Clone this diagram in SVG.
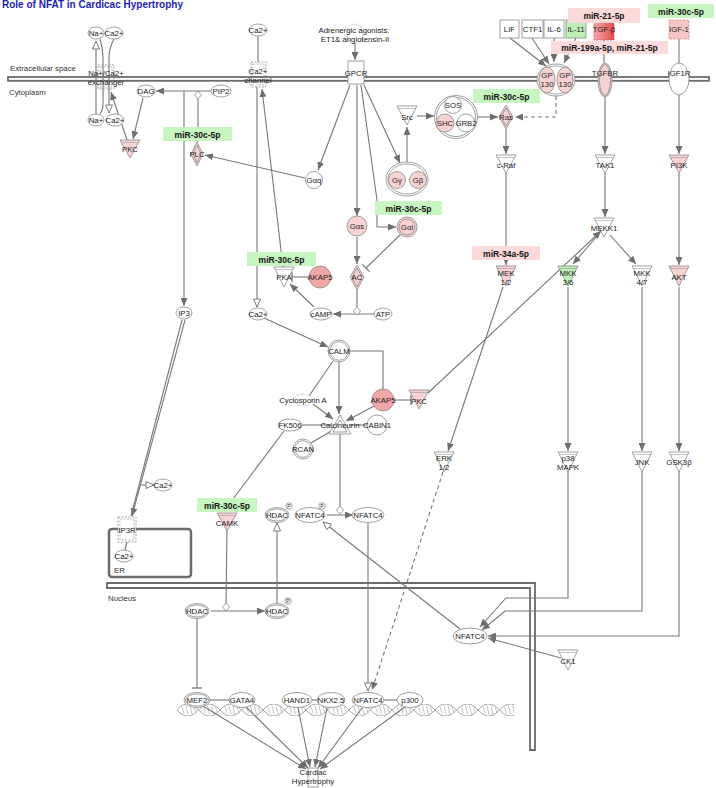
<svg xmlns="http://www.w3.org/2000/svg" width="716" height="788" viewBox="0 0 716 788">
<style>
text{font-family:"Liberation Sans",Arial,sans-serif;font-size:7.8px;fill:#222;text-anchor:middle}
.t{font-size:10px;font-weight:bold;fill:#1c1cb4;text-anchor:start}
.lbl{text-anchor:start;fill:#333}
.mir{font-weight:bold;font-size:8.5px;fill:#111}
.ln{fill:none;stroke:#777;stroke-width:1.1}
.a{marker-end:url(#fa)}
.o{marker-end:url(#oa)}
.b{marker-end:url(#bar)}
.d{stroke-dasharray:4 3}
.n{stroke:#888;stroke-width:0.8;fill:#fff}
.nn{stroke:#888;stroke-width:0.8;fill:none}
.pk{fill:#f9d3d3}
.pk2{fill:#f3a6a6}
.gn{fill:#bfeeb7}
.ds{stroke-dasharray:2 1.5}
.mg{fill:#c8f6c0}
.mp{fill:#fddada}
.p{font-size:5px}
.tl{stroke:#999;stroke-width:0.6}
</style>
<defs>
<marker id="fa" viewBox="0 0 8 7" refX="8" refY="3.5" markerWidth="8" markerHeight="7" markerUnits="userSpaceOnUse" orient="auto"><path d="M0,0 L8,3.5 L0,7 z" fill="#6e6e6e"/></marker>
<marker id="oa" viewBox="-1 -1 10 9" refX="8" refY="3.5" markerWidth="10" markerHeight="9" markerUnits="userSpaceOnUse" orient="auto"><path d="M0,0 L8,3.5 L0,7 z" fill="#fff" stroke="#6e6e6e" stroke-width="0.9"/></marker>
<marker id="bar" viewBox="0 0 2 10" refX="1" refY="5" markerWidth="2" markerHeight="10" markerUnits="userSpaceOnUse" orient="auto"><rect x="0.4" y="0" width="1.2" height="10" fill="#6e6e6e"/></marker>
<linearGradient id="tgf" x1="0" y1="0" x2="1" y2="0"><stop offset="0" stop-color="#f5a8a8"/><stop offset="1" stop-color="#e44c4c"/></linearGradient>
<pattern id="dna" x="177" y="704" width="43" height="12" patternUnits="userSpaceOnUse">
<path d="M0,6 C7,-2 14,-2 21.5,6 S36,14 43,6" fill="none" stroke="#888" stroke-width="0.8"/>
<path d="M0,6 C7,14 14,14 21.5,6 S36,-2 43,6" fill="none" stroke="#888" stroke-width="0.8"/>
<path d="M5,3 L7,9 M9,1.6 L11,10.4 M13,1.6 L15,10.4 M17,3 L19,9 M26.5,3 L28.5,9 M30.5,1.6 L32.5,10.4 M34.5,1.6 L36.5,10.4 M38.5,3 L40.5,9" stroke="#999" stroke-width="0.6"/>
</pattern>
</defs>
<rect width="716" height="788" fill="#fff"/>
<text class="t" x="2" y="7.7">Role of NFAT in Cardicac Hypertrophy</text>

<g id="compartments">
<rect x="8" y="77" width="701" height="3.8" fill="#fff" stroke="#6b6b6b" stroke-width="1.8"/>
<polygon points="107,583 535,583 535,750 530,750 530,588 107,588" fill="#fff" stroke="#6b6b6b" stroke-width="1.8"/>
<rect x="109" y="529" width="82" height="48" rx="3" fill="none" stroke="#6b6b6b" stroke-width="2.5"/>
<text class="lbl" x="10" y="71" font-size="7.5">Extracellular space</text>
<text class="lbl" x="9" y="95">Cytoplasm</text>
<text class="lbl" x="108" y="601">Nucleus</text>
<text class="lbl" x="114" y="573">ER</text>
<rect x="177" y="704" width="337" height="12" fill="url(#dna)"/>
</g>

<g id="connectors">
<path class="ln o" d="M96,114 L96,41"/>
<path class="ln" d="M100,39 Q103,48 103,58 L103,104 Q103,110 100,114"/>
<path class="ln o" d="M114,39 Q109,48 109,58 L109,113"/>
<path class="ln a" d="M127,140 L111,92"/>
<path class="ln a" d="M212,91 L156,91"/>
<path class="ln a" d="M184,91 L184,306"/>
<path class="ln" d="M198,99 L198,142"/>
<path class="ln a" d="M143,98 L133,139"/>
<path class="ln a" d="M305,178 L205,155"/>
<path class="ln" d="M182,320 L131,516"/>
<path class="ln a" d="M185,320 L132,516"/>
<path class="ln o" d="M141,485 L154,485"/>
<path class="ln" d="M127,542 L125,550"/>
<path class="ln" d="M258,36 L258,62"/>
<path class="ln o" d="M257,87 L257,307"/>
<path class="ln a" d="M283,267 L262,89"/>
<path class="ln a" d="M355,43 L355,60"/>
<path class="ln a" d="M350,85 L318,170"/>
<path class="ln a" d="M357,85 L357,216"/>
<path class="ln a" d="M361,85 L377,200 L377,227 L396,227"/>
<path class="ln a" d="M364,85 L400,163"/>
<path class="ln a" d="M407,162 L407,127"/>
<path class="ln a" d="M417,116 L434,116"/>
<path class="ln a" d="M478,117 L498,117"/>
<path class="ln a d" d="M556,96 L556,117 L515,117"/>
<path class="ln a" d="M506,129 L506,154"/>
<path class="ln a" d="M510,38 L546,66"/>
<path class="ln a" d="M532,38 L549,64"/>
<path class="ln a" d="M554,38 L554,62"/>
<path class="ln a" d="M576,38 L564,63"/>
<path class="ln" d="M604,40 L604,63"/>
<path class="ln a" d="M605,97 L605,154"/>
<path class="ln" d="M679,39 L679,63"/>
<path class="ln a" d="M679,95 L679,154"/>
<path class="ln a" d="M605,173 L605,217"/>
<path class="ln a" d="M679,173 L679,265"/>
<path class="ln a" d="M506,173 L506,265"/>
<path class="ln a" d="M598,235 L573,264"/>
<path class="ln a" d="M610,235 L636,264"/>
<path class="ln a" d="M428,393 L601,231"/>
<path class="ln a" d="M503,287 L448,451"/>
<path class="ln a" d="M568,287 L568,451"/>
<path class="ln a" d="M642,287 L642,451"/>
<path class="ln a" d="M679,287 L679,451"/>
<path class="ln a" d="M568,471 L568,598 L506,598 L480,627"/>
<path class="ln a" d="M642,471 L642,611 L505,611 L482,630"/>
<path class="ln a" d="M679,471 L679,636 L488,636"/>
<path class="ln a" d="M561,658 L488,638"/>
<path class="ln o" d="M460,629 L323,522"/>
<path class="ln a d" d="M443,472 L372,690"/>
<path class="ln a" d="M357,237 L357,264"/>
<path class="ln b" d="M401,234 L366,268"/>
<path class="ln" d="M357,290 L357,307"/>
<path class="ln a" d="M374,314 L333,314"/>
<path class="ln a" d="M314,307 L290,284"/>
<path class="ln b" d="M309,277 L292,277"/>
<path class="ln a" d="M264,318 L328,347"/>
<path class="ln a" d="M339,362 L339,414"/>
<path class="ln" d="M350,351 L383,351 L383,389"/>
<path class="ln" d="M333,361 L309,396"/>
<path class="ln a" d="M313,404 L333,419"/>
<path class="ln a" d="M374,406 L346,421"/>
<path class="ln b" d="M394,400 L411,400"/>
<path class="ln" d="M302,425 L331,425"/>
<path class="ln" d="M367,425 L349,425"/>
<path class="ln" d="M311,443 L333,430"/>
<path class="ln" d="M284,431 L230,503"/>
<path class="ln" d="M340,434 L340,506"/>
<path class="ln a" d="M327,515 L353,515"/>
<path class="ln o" d="M368,523 L368,691"/>
<path class="ln" d="M227,530 L226,603"/>
<path class="ln a" d="M211,611 L265,611"/>
<path class="ln o" d="M277,603 L277,523"/>
<path class="ln b" d="M197,619 L197,688"/>
<path class="ln" d="M210,700 L229,700"/>
<path class="ln" d="M312,700 L317,700"/>
<path class="ln" d="M384,700 L397,700"/>
<path class="ln a" d="M203,706 L306,769"/>
<path class="ln a" d="M246,707 L308,768"/>
<path class="ln a" d="M298,708 L310,767"/>
<path class="ln a" d="M327,708 L315,767"/>
<path class="ln a" d="M362,708 L318,768"/>
<path class="ln a" d="M405,707 L320,769"/>
</g>

<g id="reaction-diamonds">
<polygon points="198,91 201.5,95 198,99 194.5,95" class="n"/>
<polygon points="357,307 360.5,311 357,315 353.5,311" class="n"/>
<polygon points="340,506 343.5,510 340,514 336.5,510" class="n"/>
<polygon points="226,603 229.5,607 226,611 222.5,607" class="n"/>
</g>

<g id="Na-top"><ellipse cx="96" cy="33" rx="8" ry="6" class="n"/><text x="96" y="36">Na+</text></g>
<g id="Ca-top"><ellipse cx="114" cy="33" rx="9" ry="6" class="n"/><text x="114" y="36">Ca2+</text></g>
<g id="Na-bot"><ellipse cx="96" cy="120" rx="8" ry="6" class="n"/><text x="96" y="123">Na+</text></g>
<g id="Ca-bot"><ellipse cx="115" cy="120" rx="9" ry="6" class="n"/><text x="115" y="123">Ca2+</text></g>
<g id="exchanger"><rect x="98" y="65" width="16" height="24" fill="none" stroke="#888" stroke-width="0.8" class="ds"/><rect x="100" y="67" width="12" height="20" fill="none" stroke="#888" stroke-width="0.6" class="ds"/><text x="106" y="76">Na+/Ca2+</text><text x="106" y="85">exchanger</text></g>
<g id="DAG"><ellipse cx="146" cy="91" rx="9" ry="6" class="n"/><text x="146" y="94">DAG</text></g>
<g id="PIP2"><ellipse cx="221" cy="91" rx="10" ry="6" class="n"/><text x="221" y="94">PIP2</text></g>
<g id="PKC1"><polygon points="120,140 140,140 130,158" class="n pk"/><line x1="121.5" y1="142.5" x2="138.5" y2="142.5" class="tl"/><text x="130" y="152">PKC</text></g>
<g id="PLC"><polygon points="197,142 203,154 197,166 191,154" class="n pk"/><polygon points="197,145 201,154 197,163 193,154" class="nn"/><text x="197" y="157">PLC</text></g>
<g id="Ca-ext"><ellipse cx="258" cy="30" rx="9" ry="6" class="n"/><text x="258" y="33">Ca2+</text></g>
<g id="Ca-channel"><rect x="251" y="62" width="15" height="25" fill="none" stroke="#888" stroke-width="0.8" class="ds"/><rect x="253" y="64" width="11" height="21" fill="none" stroke="#888" stroke-width="0.6" class="ds"/><text x="258" y="74">Ca2+</text><text x="258" y="83">channel</text></g>
<g id="agonists"><ellipse cx="355" cy="34" rx="8" ry="10" fill="none" stroke="#ccc" stroke-width="0.7"/><text x="354" y="33">Adrenergic agonists:</text><text x="355" y="42">ET1&amp; angiotensin-II</text></g>
<g id="GPCR"><rect x="348" y="61" width="16" height="23" class="n"/><text x="356" y="76">GPCR</text></g>
<g id="Gaq"><circle cx="314" cy="180" r="8.5" class="n"/><text x="314" y="183">Gαq</text></g>
<g id="GgGb"><ellipse cx="407" cy="179" rx="21" ry="17" class="n"/><ellipse cx="407" cy="179" rx="19" ry="15" class="nn"/><circle cx="397" cy="180" r="8.5" class="n pk"/><circle cx="418" cy="180" r="8.5" class="n pk"/><text x="397" y="183">Gγ</text><text x="418" y="183">Gβ</text></g>
<g id="Src"><polygon points="397,106 417,106 407,125" class="n"/><line x1="398.5" y1="108.5" x2="415.5" y2="108.5" class="tl"/><text x="407" y="120">Src</text></g>
<g id="SOS-complex"><circle cx="456" cy="117" r="21.5" class="n"/><circle cx="456" cy="117" r="19.5" class="nn"/><circle cx="453" cy="105" r="8.5" class="n"/><circle cx="445" cy="123" r="9" class="n pk"/><circle cx="466" cy="123" r="9" class="n"/><text x="453" y="108">SOS</text><text x="445" y="126">SHC</text><text x="466" y="126">GRB2</text></g>
<g id="Ras"><polygon points="506,105 513,117 506,129 499,117" class="n pk"/><polygon points="506,108 511,117 506,126 501,117" class="nn"/><text x="506" y="120">Ras</text></g>
<g id="LIF"><rect x="500" y="20" width="19" height="18" class="n"/><text x="509.5" y="32">LIF</text></g>
<g id="CTF1"><rect x="522" y="20" width="21" height="18" class="n"/><text x="532.5" y="32">CTF1</text></g>
<g id="IL-6"><rect x="544" y="20" width="20" height="18" class="n"/><text x="554" y="32">IL-6</text></g>
<g id="IL-11"><rect x="566" y="20" width="20" height="18" class="n gn"/><text x="576" y="32">IL-11</text></g>
<g id="TGF-b"><rect x="594" y="20" width="20" height="20" fill="url(#tgf)" stroke="#c44" stroke-width="0.8" class="ds"/><text x="604" y="32">TGF-β</text></g>
<g id="IGF-1"><rect x="669" y="20" width="20" height="19" fill="#f6c4c4" stroke="#c88" stroke-width="0.8" class="ds"/><text x="679" y="32">IGF-1</text></g>
<g id="GP130"><ellipse cx="556" cy="80" rx="19" ry="16" class="n"/><ellipse cx="556" cy="80" rx="17" ry="14" class="nn"/><ellipse cx="547" cy="80" rx="8" ry="13" class="n pk"/><ellipse cx="565" cy="80" rx="8" ry="13" class="n pk"/><text x="547" y="78">GP</text><text x="547" y="87">130</text><text x="565" y="78">GP</text><text x="565" y="87">130</text></g>
<g id="TGFBR"><ellipse cx="605" cy="80" rx="7" ry="17" class="n pk"/><ellipse cx="605" cy="80" rx="5.5" ry="15.5" class="nn"/><text x="605" y="76">TGFBR</text></g>
<g id="IGF1R"><ellipse cx="679" cy="79" rx="10" ry="16" class="n"/><text x="679" y="76">IGF1R</text></g>
<g id="c-Raf"><polygon points="496,155 516,155 506,173" class="n"/><line x1="497.5" y1="157.5" x2="514.5" y2="157.5" class="tl"/><text x="506" y="168">c-Raf</text></g>
<g id="TAK1"><polygon points="595,155 615,155 605,173" class="n"/><line x1="596.5" y1="157.5" x2="613.5" y2="157.5" class="tl"/><text x="605" y="168">TAK1</text></g>
<g id="PI3K"><polygon points="669,155 689,155 679,173" class="n pk"/><line x1="670.5" y1="157.5" x2="687.5" y2="157.5" class="tl"/><text x="679" y="168">PI3K</text></g>
<g id="MEKK1"><polygon points="594,218 614,218 604,237" class="n"/><line x1="595.5" y1="220.5" x2="612.5" y2="220.5" class="tl"/><text x="604" y="231">MEKK1</text></g>
<g id="MEK"><polygon points="496,266 516,266 506,286" class="n pk"/><line x1="497.5" y1="268.5" x2="514.5" y2="268.5" class="tl"/><text x="506" y="276">MEK</text><text x="506" y="285">1/2</text></g>
<g id="MKK36"><polygon points="558,266 578,266 568,286" class="n gn"/><line x1="559.5" y1="268.5" x2="576.5" y2="268.5" class="tl"/><text x="568" y="276">MKK</text><text x="568" y="285">3/6</text></g>
<g id="MKK47"><polygon points="632,266 652,266 642,286" class="n"/><line x1="633.5" y1="268.5" x2="650.5" y2="268.5" class="tl"/><text x="642" y="276">MKK</text><text x="642" y="285">4/7</text></g>
<g id="AKT"><polygon points="669,266 689,266 679,286" class="n pk"/><line x1="670.5" y1="268.5" x2="687.5" y2="268.5" class="tl"/><text x="679" y="280">AKT</text></g>
<g id="Gas"><circle cx="357" cy="226" r="10" class="n pk"/><text x="357" y="229">Gαs</text></g>
<g id="Gai"><circle cx="407" cy="227" r="10" class="n pk"/><circle cx="407" cy="227" r="8" class="nn"/><text x="407" y="230">Gαi</text></g>
<g id="AC"><polygon points="357,265 364,277 357,290 350,277" class="n pk"/><polygon points="357,268 362,277 357,287 352,277" class="nn"/><text x="357" y="280">AC</text></g>
<g id="PKA"><polygon points="274,267 294,267 284,287" class="n" fill="#f4b3b3"/><line x1="275.5" y1="269.5" x2="292.5" y2="269.5" class="tl"/><text x="284" y="280">PKA</text></g>
<g id="AKAP5-a"><circle cx="320" cy="277" r="11" class="n pk2"/><text x="320" y="280">AKAP5</text></g>
<g id="Ca-cyt"><ellipse cx="258" cy="314" rx="9" ry="6" class="n"/><text x="258" y="317">Ca2+</text></g>
<g id="IP3"><ellipse cx="184" cy="313" rx="8" ry="6" class="n"/><text x="184" y="316">IP3</text></g>
<g id="cAMP"><ellipse cx="321" cy="314" rx="11" ry="6" class="n"/><text x="321" y="317">cAMP</text></g>
<g id="ATP"><ellipse cx="383" cy="314" rx="9" ry="6" class="n"/><text x="383" y="317">ATP</text></g>
<g id="CALM"><circle cx="339" cy="351" r="11" class="n"/><circle cx="339" cy="351" r="9.3" class="nn"/><text x="339" y="354">CALM</text></g>
<g id="CyclosporinA"><ellipse cx="303" cy="400" rx="9" ry="6" fill="none" stroke="#ccc" stroke-width="0.7"/><text x="303" y="403">Cyclosporin A</text></g>
<g id="AKAP5-b"><circle cx="383" cy="400" r="11" class="n pk2"/><text x="383" y="403">AKAP5</text></g>
<g id="PKC2"><polygon points="409,390 429,390 419,409" class="n pk"/><line x1="410.5" y1="392.5" x2="427.5" y2="392.5" class="tl"/><text x="419" y="404">PKC</text></g>
<g id="FK506"><ellipse cx="290" cy="425" rx="12" ry="6" class="n"/><text x="290" y="428">FK506</text></g>
<g id="Calcineurin"><polygon points="329,434 351,434 340,415" class="n"/><polygon points="333,432 347,432 340,420" class="nn"/><text x="340" y="428">Calcineurin</text></g>
<g id="CABIN1"><circle cx="377" cy="425" r="10" class="n"/><text x="377" y="428">CABIN1</text></g>
<g id="RCAN"><circle cx="303" cy="449" r="10" class="n" fill="#e06666"/><circle cx="303" cy="449" r="8.3" class="nn"/><text x="303" y="452">RCAN</text></g>
<g id="ERK"><polygon points="434,452 454,452 444,472" class="n"/><line x1="435.5" y1="454.5" x2="452.5" y2="454.5" class="tl"/><text x="444" y="461">ERK</text><text x="444" y="470">1/2</text></g>
<g id="p38"><polygon points="558,452 578,452 568,472" class="n"/><line x1="559.5" y1="454.5" x2="576.5" y2="454.5" class="tl"/><text x="568" y="461">p38</text><text x="568" y="470">MAPK</text></g>
<g id="JNK"><polygon points="632,452 652,452 642,472" class="n"/><line x1="633.5" y1="454.5" x2="650.5" y2="454.5" class="tl"/><text x="642" y="465">JNK</text></g>
<g id="GSK3b"><polygon points="669,452 689,452 679,472" class="n"/><line x1="670.5" y1="454.5" x2="687.5" y2="454.5" class="tl"/><text x="679" y="465">GSK3β</text></g>
<g id="Ca-out"><ellipse cx="163" cy="485" rx="9" ry="6" class="n"/><text x="163" y="488">Ca2+</text></g>
<g id="IP3R"><rect x="118" y="517" width="18" height="25" fill="#fff" stroke="#888" stroke-width="0.8" class="ds"/><rect x="120" y="519" width="14" height="21" fill="none" stroke="#888" stroke-width="0.6" class="ds"/><text x="127" y="533">IP3R</text></g>
<g id="Ca-ER"><ellipse cx="124" cy="556" rx="9" ry="6" class="n"/><text x="124" y="559">Ca2+</text></g>
<g id="CAMK"><polygon points="217,513 237,513 227,531" class="n pk"/><line x1="218.5" y1="515.5" x2="235.5" y2="515.5" class="tl"/><text x="227" y="526">CAMK</text></g>
<g id="HDAC-P-cyt"><ellipse cx="277" cy="515" rx="12" ry="7.5" class="n"/><ellipse cx="277" cy="515" rx="10.5" ry="6" class="nn"/><text x="277" y="518">HDAC</text><circle cx="289" cy="506" r="3.2" class="n"/><text class="p" x="289" y="507.8">P</text></g>
<g id="NFATC4-P"><ellipse cx="310" cy="515" rx="15" ry="7.5" class="n"/><text x="310" y="518">NFATC4</text><circle cx="322" cy="506" r="3.2" class="n"/><text class="p" x="322" y="507.8">P</text></g>
<g id="NFATC4-cyt"><ellipse cx="368" cy="515" rx="16" ry="7.5" class="n"/><text x="368" y="518">NFATC4</text></g>
<g id="HDAC-nuc"><ellipse cx="197" cy="611" rx="12" ry="7.5" class="n"/><ellipse cx="197" cy="611" rx="10.5" ry="6" class="nn"/><text x="197" y="614">HDAC</text></g>
<g id="HDAC-P-nuc"><ellipse cx="277" cy="611" rx="12" ry="7.5" class="n"/><ellipse cx="277" cy="611" rx="10.5" ry="6" class="nn"/><text x="277" y="614">HDAC</text><circle cx="288" cy="601" r="3.2" class="n"/><text class="p" x="288" y="602.8">P</text></g>
<g id="NFATC4-nuc"><ellipse cx="470" cy="636" rx="17" ry="8" class="n"/><text x="470" y="639">NFATC4</text></g>
<g id="CK1"><polygon points="558,650 578,650 568,670" class="n"/><line x1="559.5" y1="652.5" x2="576.5" y2="652.5" class="tl"/><text x="568" y="664">CK1</text></g>
<g id="MEF2"><ellipse cx="197" cy="700" rx="13" ry="7.5" class="n"/><ellipse cx="197" cy="700" rx="11.5" ry="6" class="nn"/><text x="197" y="703">MEF2</text></g>
<g id="GATA4"><ellipse cx="242" cy="700" rx="13" ry="7.5" class="n"/><text x="242" y="703">GATA4</text></g>
<g id="HAND1"><ellipse cx="297" cy="700" rx="15" ry="7.5" class="n"/><text x="297" y="703">HAND1</text></g>
<g id="NKX25"><ellipse cx="331" cy="700" rx="14" ry="7.5" class="n"/><text x="331" y="703">NKX2.5</text></g>
<g id="NFATC4-dna"><ellipse cx="368" cy="700" rx="16" ry="7.5" class="n"/><text x="368" y="703">NFATC4</text></g>
<g id="p300"><ellipse cx="410" cy="700" rx="13" ry="7.5" class="n"/><text x="410" y="703">p300</text></g>
<g id="CardiacHypertrophy"><rect x="308" y="768" width="10" height="19" class="n"/><text x="313" y="775">Cardiac</text><text x="313" y="784">Hypertrophy</text></g>

<g id="mirnas">
<g id="mir-a"><rect x="163" y="127" width="69" height="14" class="mg"/><text class="mir" x="197.5" y="137.5">miR-30c-5p</text></g>
<g id="mir-b"><rect x="473" y="89" width="67" height="14" class="mg"/><text class="mir" x="506.5" y="99.5">miR-30c-5p</text></g>
<g id="mir-c"><rect x="568" y="8" width="72" height="15" class="mp"/><text class="mir" x="604" y="19">miR-21-5p</text></g>
<g id="mir-d"><rect x="551" y="41" width="117" height="13" class="mp"/><text class="mir" x="609.5" y="50.5">miR-199a-5p, miR-21-5p</text></g>
<g id="mir-e"><rect x="648" y="4" width="66" height="14" class="mg"/><text class="mir" x="681" y="14.5">miR-30c-5p</text></g>
<g id="mir-f"><rect x="375" y="201" width="67" height="14" class="mg"/><text class="mir" x="408.5" y="211.5">miR-30c-5p</text></g>
<g id="mir-g"><rect x="247" y="252" width="69" height="14" class="mg"/><text class="mir" x="281.5" y="262.5">miR-30c-5p</text></g>
<g id="mir-h"><rect x="472" y="246" width="68" height="14" class="mp"/><text class="mir" x="506" y="256.5">miR-34a-5p</text></g>
<g id="mir-i"><rect x="197" y="498" width="60" height="14" class="mg"/><text class="mir" x="227" y="508.5">miR-30c-5p</text></g>
</g>
</svg>
